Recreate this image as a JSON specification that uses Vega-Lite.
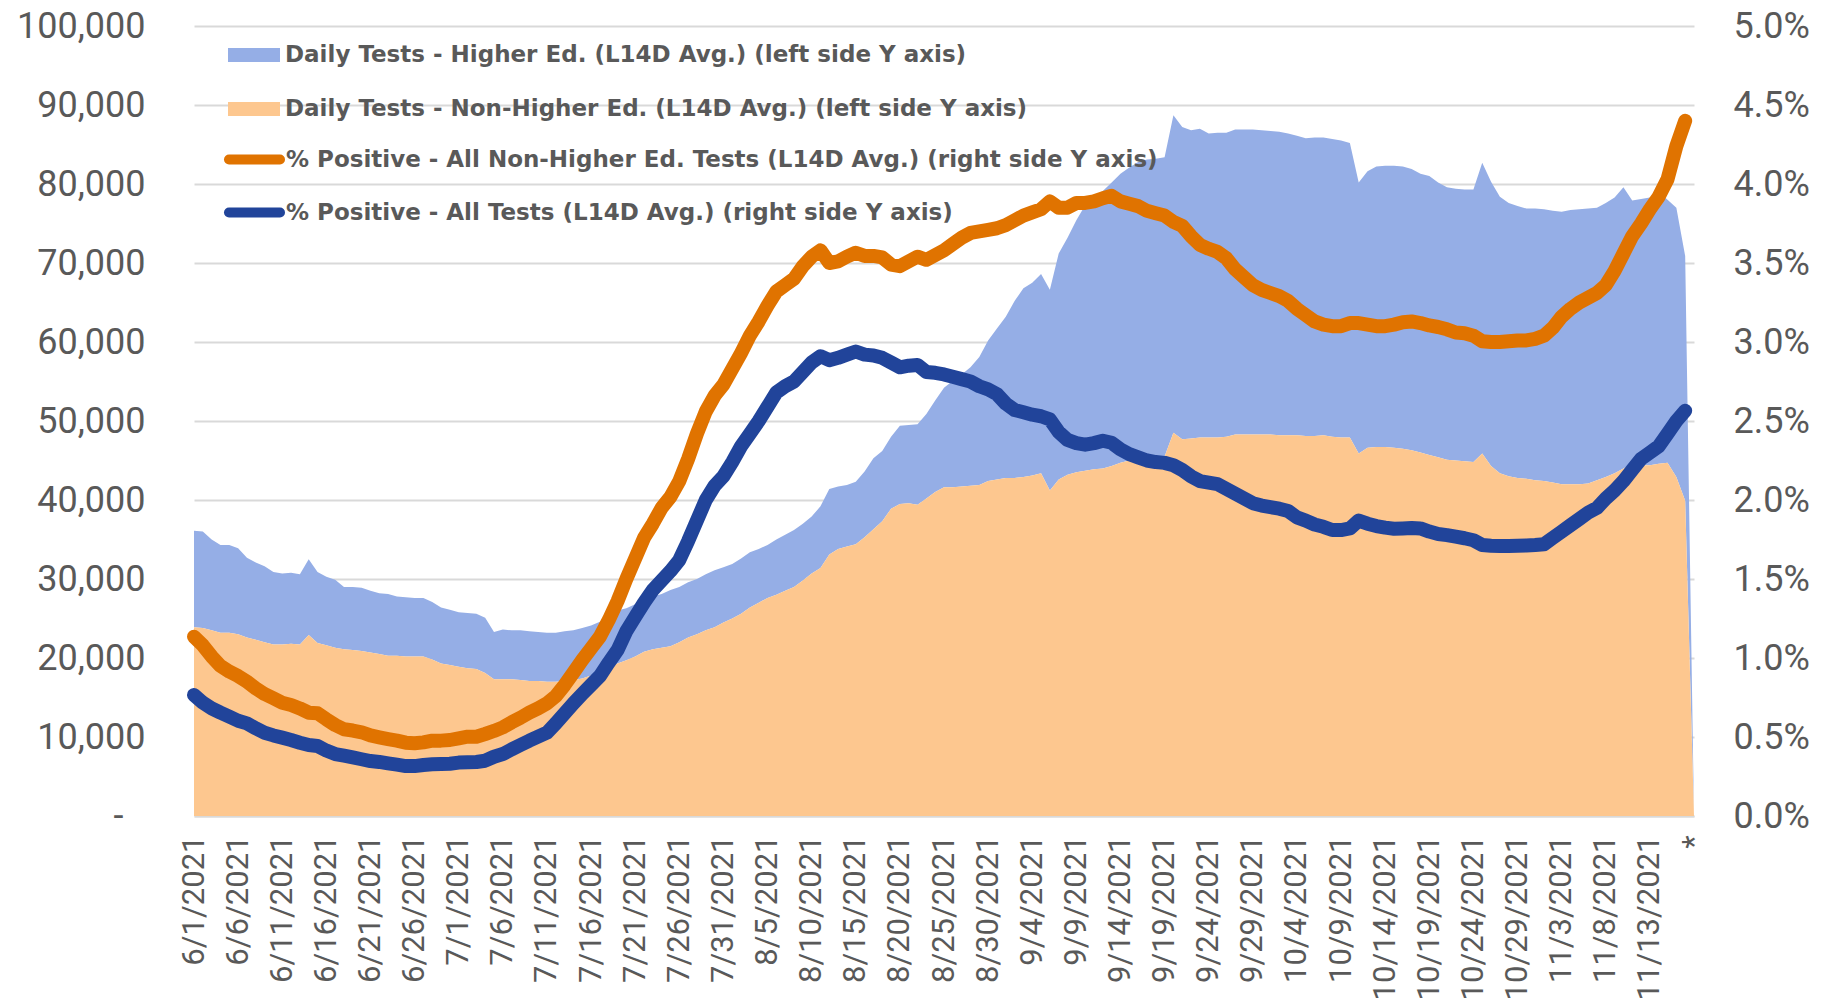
{
  "$schema": "https://vega.github.io/schema/vega-lite/v6.json",
  "width": 1500,
  "height": 790,
  "autosize": {"type": "none"},
  "padding": {"left": 194, "top": 26, "right": 139, "bottom": 189},
  "background": "white",
  "config": {"view": {"stroke": null}, "font": "Roboto"},
  "data": {"values": [
    {"d":"2021-06-01","he":12200,"nh":23900,"po":1.135,"pa":0.766},
    {"d":"2021-06-02","he":12200,"nh":23800,"po":1.08,"pa":0.717},
    {"d":"2021-06-03","he":11500,"nh":23500,"po":1.01,"pa":0.681},
    {"d":"2021-06-04","he":11100,"nh":23200,"po":0.95,"pa":0.654},
    {"d":"2021-06-05","he":11100,"nh":23200,"po":0.914,"pa":0.629},
    {"d":"2021-06-06","he":10900,"nh":23000,"po":0.886,"pa":0.603},
    {"d":"2021-06-07","he":10100,"nh":22600,"po":0.85,"pa":0.586},
    {"d":"2021-06-08","he":9800,"nh":22300,"po":0.808,"pa":0.555},
    {"d":"2021-06-09","he":9600,"nh":22000,"po":0.772,"pa":0.527},
    {"d":"2021-06-10","he":9200,"nh":21700,"po":0.745,"pa":0.51},
    {"d":"2021-06-11","he":9000,"nh":21700,"po":0.717,"pa":0.496},
    {"d":"2021-06-12","he":9000,"nh":21800,"po":0.703,"pa":0.481},
    {"d":"2021-06-13","he":8900,"nh":21700,"po":0.681,"pa":0.464},
    {"d":"2021-06-14","he":9600,"nh":22900,"po":0.654,"pa":0.449},
    {"d":"2021-06-15","he":9000,"nh":21900,"po":0.65,"pa":0.443},
    {"d":"2021-06-16","he":8700,"nh":21600,"po":0.612,"pa":0.414},
    {"d":"2021-06-17","he":8600,"nh":21300,"po":0.576,"pa":0.392},
    {"d":"2021-06-18","he":7900,"nh":21100,"po":0.549,"pa":0.382},
    {"d":"2021-06-19","he":8000,"nh":21000,"po":0.541,"pa":0.371},
    {"d":"2021-06-20","he":8000,"nh":20900,"po":0.53,"pa":0.359},
    {"d":"2021-06-21","he":7800,"nh":20700,"po":0.51,"pa":0.348},
    {"d":"2021-06-22","he":7700,"nh":20500,"po":0.498,"pa":0.342},
    {"d":"2021-06-23","he":7800,"nh":20300,"po":0.487,"pa":0.333},
    {"d":"2021-06-24","he":7500,"nh":20300,"po":0.477,"pa":0.325},
    {"d":"2021-06-25","he":7500,"nh":20200,"po":0.464,"pa":0.316},
    {"d":"2021-06-26","he":7400,"nh":20200,"po":0.46,"pa":0.316},
    {"d":"2021-06-27","he":7400,"nh":20200,"po":0.466,"pa":0.323},
    {"d":"2021-06-28","he":7300,"nh":19800,"po":0.477,"pa":0.327},
    {"d":"2021-06-29","he":7100,"nh":19300,"po":0.477,"pa":0.329},
    {"d":"2021-06-30","he":7000,"nh":19100,"po":0.481,"pa":0.331},
    {"d":"2021-07-01","he":6900,"nh":18900,"po":0.492,"pa":0.338},
    {"d":"2021-07-02","he":7000,"nh":18700,"po":0.502,"pa":0.34},
    {"d":"2021-07-03","he":7000,"nh":18600,"po":0.502,"pa":0.342},
    {"d":"2021-07-04","he":7000,"nh":18100,"po":0.519,"pa":0.35},
    {"d":"2021-07-05","he":6000,"nh":17300,"po":0.538,"pa":0.375},
    {"d":"2021-07-06","he":6300,"nh":17300,"po":0.561,"pa":0.392},
    {"d":"2021-07-07","he":6200,"nh":17300,"po":0.593,"pa":0.422},
    {"d":"2021-07-08","he":6300,"nh":17200,"po":0.622,"pa":0.449},
    {"d":"2021-07-09","he":6300,"nh":17100,"po":0.654,"pa":0.477},
    {"d":"2021-07-10","he":6200,"nh":17100,"po":0.681,"pa":0.502},
    {"d":"2021-07-11","he":6200,"nh":17000,"po":0.713,"pa":0.527},
    {"d":"2021-07-12","he":6200,"nh":17000,"po":0.759,"pa":0.586},
    {"d":"2021-07-13","he":6300,"nh":17100,"po":0.829,"pa":0.65},
    {"d":"2021-07-14","he":6300,"nh":17200,"po":0.907,"pa":0.713},
    {"d":"2021-07-15","he":6400,"nh":17400,"po":0.987,"pa":0.772},
    {"d":"2021-07-16","he":6300,"nh":17800,"po":1.061,"pa":0.829},
    {"d":"2021-07-17","he":6300,"nh":18300,"po":1.135,"pa":0.886},
    {"d":"2021-07-18","he":6500,"nh":18800,"po":1.24,"pa":0.97},
    {"d":"2021-07-19","he":6700,"nh":19300,"po":1.36,"pa":1.05},
    {"d":"2021-07-20","he":6600,"nh":19700,"po":1.5,"pa":1.17},
    {"d":"2021-07-21","he":6600,"nh":20200,"po":1.63,"pa":1.26},
    {"d":"2021-07-22","he":6600,"nh":20800,"po":1.76,"pa":1.35},
    {"d":"2021-07-23","he":6700,"nh":21100,"po":1.85,"pa":1.43},
    {"d":"2021-07-24","he":6800,"nh":21300,"po":1.95,"pa":1.49},
    {"d":"2021-07-25","he":7100,"nh":21500,"po":2.02,"pa":1.55},
    {"d":"2021-07-26","he":7000,"nh":22000,"po":2.12,"pa":1.62},
    {"d":"2021-07-27","he":7000,"nh":22600,"po":2.26,"pa":1.74},
    {"d":"2021-07-28","he":7000,"nh":23000,"po":2.42,"pa":1.87},
    {"d":"2021-07-29","he":7100,"nh":23500,"po":2.56,"pa":2.0},
    {"d":"2021-07-30","he":7200,"nh":23900,"po":2.66,"pa":2.09},
    {"d":"2021-07-31","he":7000,"nh":24500,"po":2.73,"pa":2.15},
    {"d":"2021-08-01","he":6900,"nh":25000,"po":2.83,"pa":2.24},
    {"d":"2021-08-02","he":7000,"nh":25600,"po":2.93,"pa":2.34},
    {"d":"2021-08-03","he":7000,"nh":26400,"po":3.04,"pa":2.42},
    {"d":"2021-08-04","he":6800,"nh":27000,"po":3.13,"pa":2.5},
    {"d":"2021-08-05","he":6700,"nh":27600,"po":3.23,"pa":2.59},
    {"d":"2021-08-06","he":7000,"nh":28000,"po":3.32,"pa":2.68},
    {"d":"2021-08-07","he":7100,"nh":28500,"po":3.36,"pa":2.72},
    {"d":"2021-08-08","he":7200,"nh":29000,"po":3.4,"pa":2.75},
    {"d":"2021-08-09","he":7200,"nh":29800,"po":3.48,"pa":2.81},
    {"d":"2021-08-10","he":7200,"nh":30700,"po":3.54,"pa":2.87},
    {"d":"2021-08-11","he":7800,"nh":31400,"po":3.58,"pa":2.91},
    {"d":"2021-08-12","he":8300,"nh":33100,"po":3.5,"pa":2.885},
    {"d":"2021-08-13","he":7900,"nh":33800,"po":3.51,"pa":2.9},
    {"d":"2021-08-14","he":7800,"nh":34100,"po":3.54,"pa":2.92},
    {"d":"2021-08-15","he":7900,"nh":34400,"po":3.565,"pa":2.94},
    {"d":"2021-08-16","he":8300,"nh":35300,"po":3.545,"pa":2.92},
    {"d":"2021-08-17","he":9000,"nh":36300,"po":3.545,"pa":2.915},
    {"d":"2021-08-18","he":8900,"nh":37300,"po":3.535,"pa":2.9},
    {"d":"2021-08-19","he":9100,"nh":38900,"po":3.49,"pa":2.87},
    {"d":"2021-08-20","he":9900,"nh":39500,"po":3.48,"pa":2.84},
    {"d":"2021-08-21","he":9900,"nh":39600,"po":3.51,"pa":2.85},
    {"d":"2021-08-22","he":10200,"nh":39400,"po":3.54,"pa":2.855},
    {"d":"2021-08-23","he":10700,"nh":40200,"po":3.52,"pa":2.81},
    {"d":"2021-08-24","he":11600,"nh":41000,"po":3.55,"pa":2.805},
    {"d":"2021-08-25","he":12600,"nh":41600,"po":3.58,"pa":2.795},
    {"d":"2021-08-26","he":13500,"nh":41600,"po":3.62,"pa":2.78},
    {"d":"2021-08-27","he":14200,"nh":41700,"po":3.66,"pa":2.765},
    {"d":"2021-08-28","he":15000,"nh":41800,"po":3.69,"pa":2.75},
    {"d":"2021-08-29","he":16200,"nh":41900,"po":3.7,"pa":2.72},
    {"d":"2021-08-30","he":17800,"nh":42400,"po":3.71,"pa":2.7},
    {"d":"2021-08-31","he":19100,"nh":42600,"po":3.72,"pa":2.67},
    {"d":"2021-09-01","he":20400,"nh":42800,"po":3.74,"pa":2.61},
    {"d":"2021-09-02","he":22400,"nh":42800,"po":3.77,"pa":2.57},
    {"d":"2021-09-03","he":23900,"nh":42900,"po":3.8,"pa":2.555},
    {"d":"2021-09-04","he":24400,"nh":43100,"po":3.82,"pa":2.54},
    {"d":"2021-09-05","he":25200,"nh":43400,"po":3.84,"pa":2.53},
    {"d":"2021-09-06","he":25400,"nh":41200,"po":3.89,"pa":2.51},
    {"d":"2021-09-07","he":28600,"nh":42600,"po":3.85,"pa":2.43},
    {"d":"2021-09-08","he":30000,"nh":43200,"po":3.85,"pa":2.38},
    {"d":"2021-09-09","he":31900,"nh":43500,"po":3.88,"pa":2.36},
    {"d":"2021-09-10","he":33600,"nh":43700,"po":3.88,"pa":2.35},
    {"d":"2021-09-11","he":34500,"nh":43900,"po":3.89,"pa":2.36},
    {"d":"2021-09-12","he":35100,"nh":44000,"po":3.91,"pa":2.375},
    {"d":"2021-09-13","he":35900,"nh":44300,"po":3.925,"pa":2.362},
    {"d":"2021-09-14","he":36600,"nh":44700,"po":3.89,"pa":2.32},
    {"d":"2021-09-15","he":37100,"nh":45000,"po":3.875,"pa":2.29},
    {"d":"2021-09-16","he":37600,"nh":45200,"po":3.86,"pa":2.27},
    {"d":"2021-09-17","he":37800,"nh":45300,"po":3.83,"pa":2.25},
    {"d":"2021-09-18","he":37800,"nh":45400,"po":3.815,"pa":2.24},
    {"d":"2021-09-19","he":37900,"nh":45500,"po":3.8,"pa":2.235},
    {"d":"2021-09-20","he":40200,"nh":48500,"po":3.76,"pa":2.22},
    {"d":"2021-09-21","he":39500,"nh":47700,"po":3.735,"pa":2.19},
    {"d":"2021-09-22","he":39000,"nh":47800,"po":3.67,"pa":2.15},
    {"d":"2021-09-23","he":39100,"nh":47900,"po":3.615,"pa":2.12},
    {"d":"2021-09-24","he":38500,"nh":47900,"po":3.59,"pa":2.11},
    {"d":"2021-09-25","he":38600,"nh":47900,"po":3.57,"pa":2.1},
    {"d":"2021-09-26","he":38500,"nh":48000,"po":3.53,"pa":2.07},
    {"d":"2021-09-27","he":38600,"nh":48300,"po":3.46,"pa":2.04},
    {"d":"2021-09-28","he":38600,"nh":48300,"po":3.41,"pa":2.01},
    {"d":"2021-09-29","he":38600,"nh":48300,"po":3.36,"pa":1.98},
    {"d":"2021-09-30","he":38500,"nh":48300,"po":3.33,"pa":1.965},
    {"d":"2021-10-01","he":38400,"nh":48300,"po":3.31,"pa":1.955},
    {"d":"2021-10-02","he":38400,"nh":48200,"po":3.29,"pa":1.945},
    {"d":"2021-10-03","he":38200,"nh":48200,"po":3.26,"pa":1.93},
    {"d":"2021-10-04","he":37900,"nh":48200,"po":3.21,"pa":1.89},
    {"d":"2021-10-05","he":37700,"nh":48100,"po":3.17,"pa":1.87},
    {"d":"2021-10-06","he":37800,"nh":48100,"po":3.13,"pa":1.845},
    {"d":"2021-10-07","he":37700,"nh":48200,"po":3.11,"pa":1.83},
    {"d":"2021-10-08","he":37700,"nh":48000,"po":3.1,"pa":1.81},
    {"d":"2021-10-09","he":37600,"nh":47900,"po":3.1,"pa":1.81},
    {"d":"2021-10-10","he":37300,"nh":47900,"po":3.12,"pa":1.82},
    {"d":"2021-10-11","he":34300,"nh":45900,"po":3.12,"pa":1.87},
    {"d":"2021-10-12","he":35000,"nh":46600,"po":3.11,"pa":1.85},
    {"d":"2021-10-13","he":35500,"nh":46700,"po":3.1,"pa":1.835},
    {"d":"2021-10-14","he":35600,"nh":46700,"po":3.1,"pa":1.825},
    {"d":"2021-10-15","he":35700,"nh":46600,"po":3.11,"pa":1.818},
    {"d":"2021-10-16","he":35700,"nh":46500,"po":3.125,"pa":1.82},
    {"d":"2021-10-17","he":35600,"nh":46300,"po":3.13,"pa":1.823},
    {"d":"2021-10-18","he":35300,"nh":46000,"po":3.12,"pa":1.82},
    {"d":"2021-10-19","he":35300,"nh":45700,"po":3.105,"pa":1.8},
    {"d":"2021-10-20","he":34800,"nh":45400,"po":3.095,"pa":1.785},
    {"d":"2021-10-21","he":34500,"nh":45100,"po":3.08,"pa":1.778},
    {"d":"2021-10-22","he":34400,"nh":45000,"po":3.06,"pa":1.768},
    {"d":"2021-10-23","he":34400,"nh":44900,"po":3.055,"pa":1.758},
    {"d":"2021-10-24","he":34500,"nh":44800,"po":3.04,"pa":1.745},
    {"d":"2021-10-25","he":36800,"nh":45900,"po":3.005,"pa":1.715},
    {"d":"2021-10-26","he":36000,"nh":44300,"po":3.0,"pa":1.71},
    {"d":"2021-10-27","he":35000,"nh":43400,"po":3.0,"pa":1.709},
    {"d":"2021-10-28","he":34600,"nh":43000,"po":3.005,"pa":1.709},
    {"d":"2021-10-29","he":34400,"nh":42800,"po":3.01,"pa":1.71},
    {"d":"2021-10-30","he":34200,"nh":42700,"po":3.01,"pa":1.712},
    {"d":"2021-10-31","he":34400,"nh":42500,"po":3.02,"pa":1.715},
    {"d":"2021-11-01","he":34400,"nh":42400,"po":3.04,"pa":1.72},
    {"d":"2021-11-02","he":34400,"nh":42200,"po":3.09,"pa":1.76},
    {"d":"2021-11-03","he":34500,"nh":42000,"po":3.16,"pa":1.8},
    {"d":"2021-11-04","he":34700,"nh":42000,"po":3.21,"pa":1.84},
    {"d":"2021-11-05","he":34800,"nh":42000,"po":3.25,"pa":1.88},
    {"d":"2021-11-06","he":34800,"nh":42100,"po":3.28,"pa":1.92},
    {"d":"2021-11-07","he":34500,"nh":42500,"po":3.31,"pa":1.95},
    {"d":"2021-11-08","he":34700,"nh":42900,"po":3.36,"pa":2.01},
    {"d":"2021-11-09","he":34900,"nh":43400,"po":3.45,"pa":2.06},
    {"d":"2021-11-10","he":35600,"nh":44000,"po":3.56,"pa":2.12},
    {"d":"2021-11-11","he":33300,"nh":44600,"po":3.67,"pa":2.19},
    {"d":"2021-11-12","he":33700,"nh":44400,"po":3.75,"pa":2.26},
    {"d":"2021-11-13","he":33900,"nh":44400,"po":3.84,"pa":2.3},
    {"d":"2021-11-14","he":34400,"nh":44600,"po":3.92,"pa":2.34},
    {"d":"2021-11-15","he":33300,"nh":44700,"po":4.03,"pa":2.42},
    {"d":"2021-11-16","he":34100,"nh":42900,"po":4.24,"pa":2.5},
    {"d":"2021-11-17","he":31000,"nh":39900,"po":4.4,"pa":2.565},
    {"d":"2021-11-18","he":0,"nh":0}
  ]},
  "encoding": {
    "x": {
      "field": "d",
      "type": "temporal",
      "scale": {"type": "utc", "nice": false},
      "axis": {
        "title": null,
        "values": [1622505600000,1622937600000,1623369600000,1623801600000,1624233600000,1624665600000,1625097600000,1625529600000,1625961600000,1626393600000,1626825600000,1627257600000,1627689600000,1628121600000,1628553600000,1628985600000,1629417600000,1629849600000,1630281600000,1630713600000,1631145600000,1631577600000,1632009600000,1632441600000,1632873600000,1633305600000,1633737600000,1634169600000,1634601600000,1635033600000,1635465600000,1635897600000,1636329600000,1636761600000,1637193600000],
        "labelExpr": "(utcmonth(datum.value) == 10 && utcdate(datum.value) == 18) ? '*' : utcFormat(datum.value, '%-m/%-d/%Y')",
        "labelAngle": -90,
        "labelFont": "Roboto",
        "labelFontSize": 31,
        "labelColor": "#595959",
        "labelPadding": 19,
        "labelOverlap": false,
        "labelFlush": false,
        "labelBound": false,
        "grid": false,
        "ticks": false,
        "domain": true,
        "domainColor": "#D9D9D9",
        "domainWidth": 2
      }
    }
  },
  "layer": [
    {
      "transform": [{"fold": ["he", "nh"], "as": ["series", "tests"]}],
      "mark": {"type": "area", "interpolate": "linear"},
      "encoding": {
        "y": {
          "field": "tests",
          "type": "quantitative",
          "stack": "zero",
          "scale": {"domain": [0, 100000], "nice": false},
          "axis": {
            "orient": "left",
            "title": null,
            "values": [0,10000,20000,30000,40000,50000,60000,70000,80000,90000,100000],
            "labelExpr": "datum.value == 0 ? '-' : format(datum.value, ',')",
            "labelFont": "Roboto",
            "labelFontSize": 36,
            "labelColor": "#595959",
            "labelPadding": {"condition": {"test": "datum.value == 0", "value": 71}, "value": 49},
            "grid": true,
            "gridColor": "#D9D9D9",
            "gridWidth": 2,
            "domain": false,
            "ticks": false
          }
        },
        "color": {
          "field": "series",
          "type": "nominal",
          "scale": {"domain": ["he", "nh"], "range": ["#95AEE6", "#FDC78F"]},
          "legend": {
            "orient": "none",
            "legendX": 34,
            "legendY": 3,
            "title": null,
            "padding": 0,
            "symbolType": "M-1,-0.27H1V0.27H-1Z",
            "symbolSize": 2704,
            "symbolStrokeWidth": 0,
            "symbolOpacity": 1,
            "labelExpr": "datum.label == 'he' ? 'Daily Tests - Higher Ed. (L14D Avg.) (left side Y axis)' : 'Daily Tests - Non-Higher Ed. (L14D Avg.) (left side Y axis)'",
            "labelFont": "DejaVu Sans",
            "labelFontSize": 23,
            "labelFontWeight": "bold",
            "labelColor": "#595959",
            "labelOffset": 5,
            "labelLimit": 2000,
            "rowPadding": 16
          }
        },
        "order": {"field": "series", "sort": "descending"}
      }
    },
    {
      "transform": [{"fold": ["po", "pa"], "as": ["metric", "pct"]}],
      "mark": {"type": "line", "strokeWidth": 14, "strokeCap": "round", "strokeJoin": "round"},
      "encoding": {
        "y": {
          "field": "pct",
          "type": "quantitative",
          "scale": {"domain": [0, 5], "nice": false},
          "axis": {
            "orient": "right",
            "title": null,
            "values": [0,0.5,1,1.5,2,2.5,3,3.5,4,4.5,5],
            "labelExpr": "format(datum.value, '.1f') + '%'",
            "labelFont": "Roboto",
            "labelFontSize": 36,
            "labelColor": "#595959",
            "labelPadding": 39,
            "grid": false,
            "domain": false,
            "ticks": false
          }
        },
        "stroke": {
          "field": "metric",
          "type": "nominal",
          "scale": {"domain": ["po", "pa"], "range": ["#E07300", "#21449A"]},
          "legend": {
            "orient": "none",
            "legendX": 30,
            "legendY": 103,
            "title": null,
            "padding": 0,
            "symbolType": "stroke",
            "symbolSize": 2601,
            "symbolStrokeWidth": 10,
            "labelExpr": "datum.label == 'po' ? '% Positive - All Non-Higher Ed. Tests (L14D Avg.) (right side Y axis)' : '% Positive - All Tests (L14D Avg.) (right side Y axis)'",
            "labelFont": "DejaVu Sans",
            "labelFontSize": 23,
            "labelFontWeight": "bold",
            "labelColor": "#595959",
            "labelOffset": 1,
            "labelLimit": 2000,
            "rowPadding": 2,
            "encode": {"symbols": {"update": {"strokeCap": {"value": "round"}}}}
          }
        }
      }
    }
  ],
  "resolve": {"scale": {"y": "independent"}}
}
